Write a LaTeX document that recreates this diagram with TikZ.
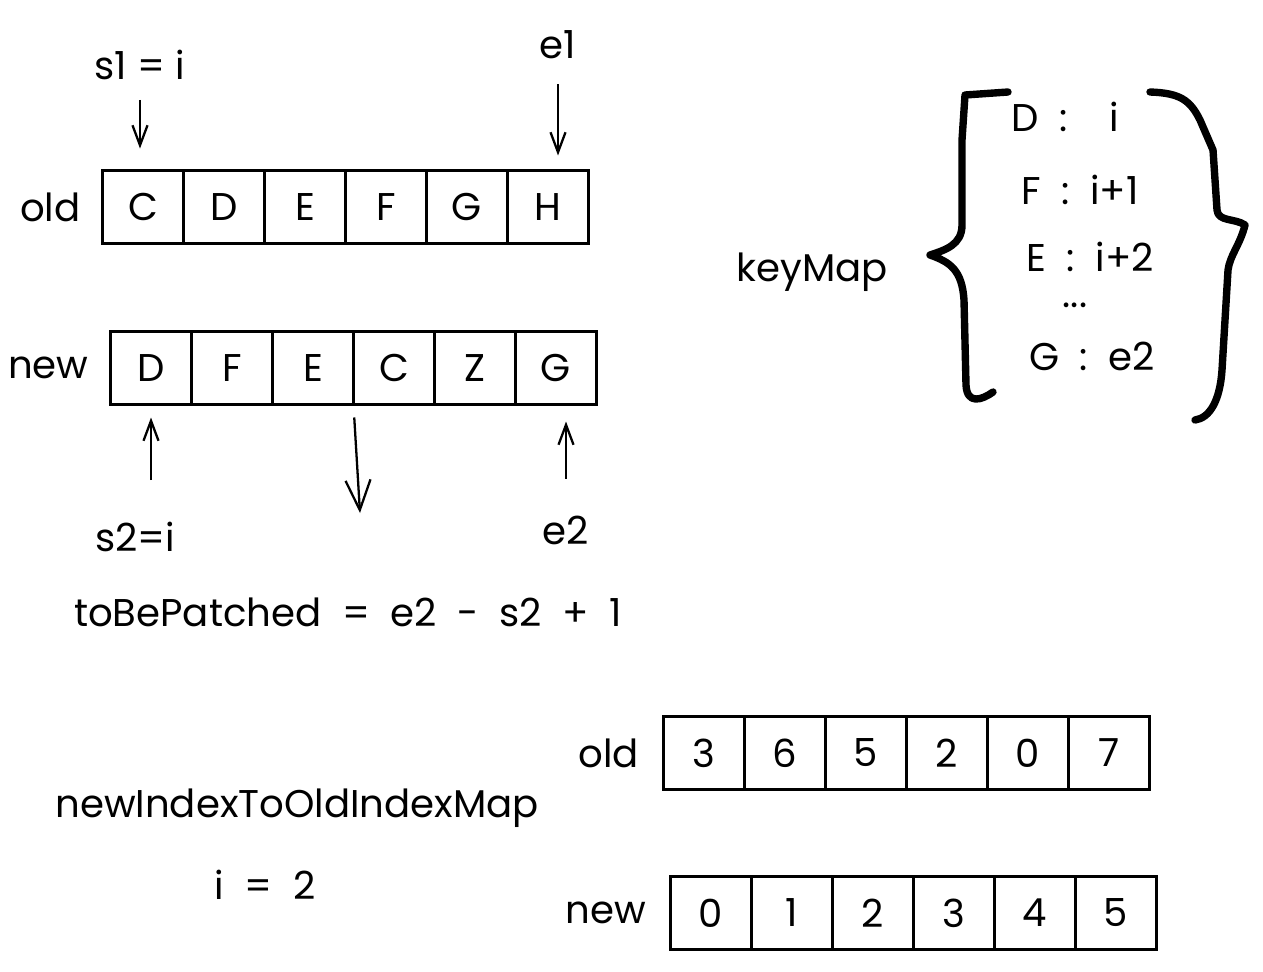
\documentclass[tikz,border=0pt]{standalone}
\usepackage{fontspec}
\setmainfont{Poppins}
\usetikzlibrary{positioning, arrows.meta}
\tikzset{
  cell/.style={draw, line width=1.5pt, minimum width=1.62cm, minimum height=1.46cm,
    inner sep=0pt, outer sep=0pt, font=\fontsize{22}{26}\selectfont},
  lbl/.style={font=\fontsize{22}{26}\selectfont, inner sep=1pt},
  ptr/.style={-{Straight Barb[length=4mm,width=3mm]}, line width=1.3pt},
  bigptr/.style={ptr, -{Straight Barb[length=6mm,width=5mm]}},
  brace/.style={line width=4.2pt, line cap=round, line join=round},
}

\begin{document}
\begin{tikzpicture}[x=0.02cm, y=-0.02cm]
  \useasboundingbox (0,0) rectangle (1263,971);

  % old list, top
  \node[cell] (oc) at (143,207) {C};
  \node[cell, right=0pt of oc] (od) {D};
  \node[cell, right=0pt of od] (oe) {E};
  \node[cell, right=0pt of oe] (of) {F};
  \node[cell, right=0pt of of] (og) {G};
  \node[cell, right=0pt of og] (oh) {H};
  \node[lbl, left=0.4cm of oc] (oldlbl) {old};

  % new list, top
  \node[cell] (nd) at (151,368) {D};
  \node[cell, right=0pt of nd] (nf) {F};
  \node[cell, right=0pt of nf] (ne) {E};
  \node[cell, right=0pt of ne] (nc) {C};
  \node[cell, right=0pt of nc] (nz) {Z};
  \node[cell, right=0pt of nz] (ng) {G};
  \node[lbl, left=0.4cm of nd] (newlbl) {new};

  % pointers
  \node[lbl] (s1lbl) at (140,65) {s1 = i};
  \node[lbl] (e1lbl) at (558,45) {e1};
  \node[lbl] (s2lbl) at (135,537) {s2=i};
  \node[lbl] (e2lbl) at (566,530) {e2};
  \draw[ptr, shorten <=0.36cm, shorten >=0.44cm] (s1lbl.south) -- (s1lbl.south |- oc.north);
  \draw[ptr, shorten <=0.46cm, shorten >=0.3cm] (e1lbl.south) -- (e1lbl.south |- oh.north);
  \draw[ptr, shorten <=0.8cm, shorten >=0.26cm] (nd.south |- s2lbl.north) -- (nd.south);
  \draw[ptr, shorten <=0.7cm, shorten >=0.34cm] (e2lbl.north) -- (e2lbl.north |- ng.south);

  \coordinate (split) at (360,513);
  \draw[bigptr, shorten <=0.26cm] (ne.south east) -- (split);

  \node[lbl] (patch) at (348,612)
    {toBePatched\ \ =\ \ e2\ \ -\ \ s2\ \ +\ \ 1};

  % keyMap
  \node[lbl] (keymap) at (812,272) {keyMap};
  \node[lbl] (kd) at (1065,117) {D\ \ :\ \ \ \ i};
  \node[lbl] (kf) at (1080,190) {F\ \ :\ \ i+1};
  \node[lbl] (ke) at (1090,257) {E\ \ :\ \ i+2};
  \node[lbl] (kdots) at (1075,305) {...};
  \node[lbl] (kg) at (1092,356) {G\ \ :\ \ e2};
  \draw[brace] (1008,92) -- (965,95) -- (962,140) -- (962,225)
    .. controls (962,245) and (945,250) .. (930,255)
    .. controls (950,262) and (962,270) .. (964,300) -- (966,385)
    .. controls (967,405) and (982,400) .. (993,392);
  \draw[brace] (1150,92) .. controls (1180,93) and (1190,100) .. (1200,120)
    -- (1213,150) -- (1217,210)
    .. controls (1218,222) and (1235,218) .. (1245,225)
    .. controls (1240,245) and (1230,255) .. (1228,270) -- (1222,370)
    .. controls (1220,400) and (1210,418) .. (1195,420);

  % index map
  \node[lbl] (nmap) at (297,808) {newIndexToOldIndexMap};
  \node[lbl] (iset) at (265,885) {i\ \ =\ \ 2};

  \node[cell] (o3) at (704,753) {3};
  \node[cell, right=0pt of o3] (o6) {6};
  \node[cell, right=0pt of o6] (o5) {5};
  \node[cell, right=0pt of o5] (o2) {2};
  \node[cell, right=0pt of o2] (o0) {0};
  \node[cell, right=0pt of o0] (o7) {7};
  \node[lbl, left=0.45cm of o3] (oldidx) {old};

  \node[cell] (n0) at (711,913) {0};
  \node[cell, right=0pt of n0] (n1) {1};
  \node[cell, right=0pt of n1] (n2) {2};
  \node[cell, right=0pt of n2] (n3) {3};
  \node[cell, right=0pt of n3] (n4) {4};
  \node[cell, right=0pt of n4] (n5) {5};
  \node[lbl, left=0.45cm of n0] (newidx) {new};
\end{tikzpicture}
\end{document}
